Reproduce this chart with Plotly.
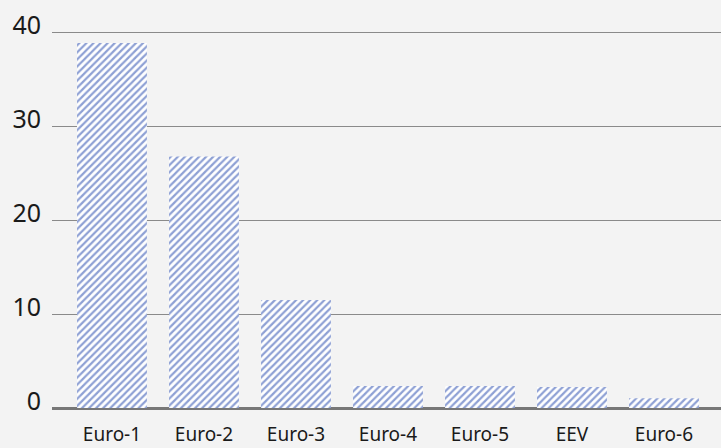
import plotly.graph_objects as go

categories = ["Euro-1", "Euro-2", "Euro-3", "Euro-4", "Euro-5", "EEV", "Euro-6"]
values = [38.9, 26.8, 11.5, 2.35, 2.35, 2.25, 1.05]
y_ticks = [0, 10, 20, 30, 40]

fig = go.Figure(go.Bar(
    x=categories, y=values, width=0.76,
    marker=dict(color="rgba(0,0,0,0)", line=dict(width=0),
                pattern=dict(shape="/", fgcolor="#1e42aa", bgcolor="#ffffff",
                             size=5, solidity=0.45)),
))
fig.update_layout(
    width=721, height=448,
    margin=dict(l=52, r=0, t=28, b=40),
    paper_bgcolor="#f3f3f3", plot_bgcolor="#f3f3f3",
    showlegend=False,
    font=dict(family="Noto Sans", color="#1a1a1a"),
)
fig.update_xaxes(range=[-0.652, 6.62], showgrid=False, ticks="", tickfont=dict(size=19),
                 ticklabelstandoff=13, layer="above traces")
fig.update_yaxes(range=[0, 40.5], tickvals=y_ticks, showgrid=True, gridcolor="#8a8a8a", gridwidth=1,
                 zeroline=True, zerolinecolor="#777", zerolinewidth=2.5, layer="above traces",
                 tickfont=dict(size=25), ticklabelstandoff=10, ticklabelshift=-7)
fig.write_html("out.html", config={"displayModeBar": False},
               post_script="document.body.style.margin='0';document.body.style.background='#f3f3f3';")
